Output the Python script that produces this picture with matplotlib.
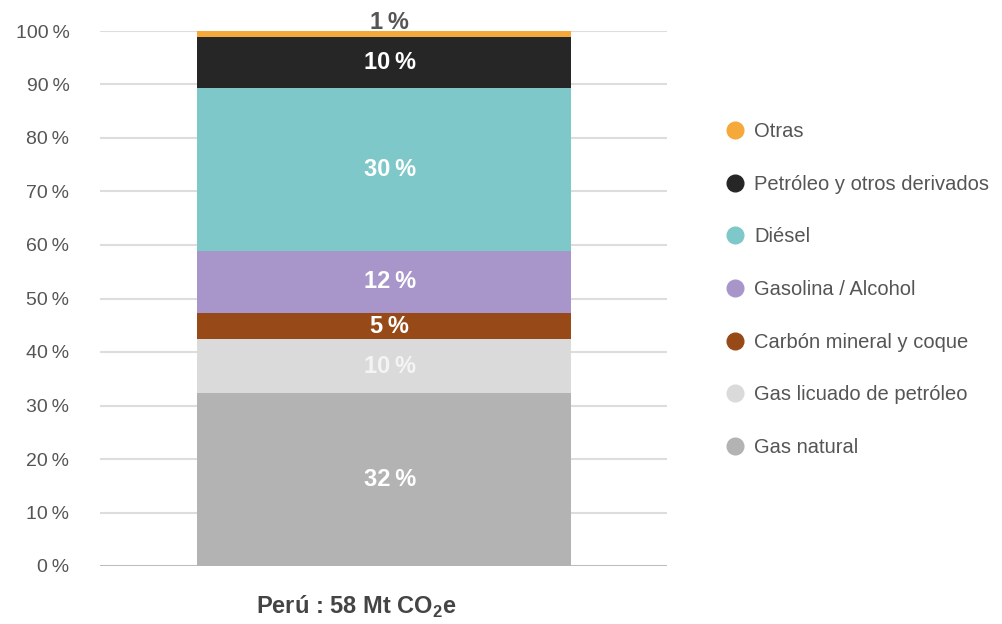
import matplotlib
matplotlib.use("Agg")
import matplotlib.pyplot as plt
from matplotlib.lines import Line2D

plt.rcParams['font.family'] = ['Liberation Sans', 'DejaVu Sans']

# data (bottom to top)
categories = ["Gas natural", "Gas licuado de petróleo", "Carbón mineral y coque",
              "Gasolina / Alcohol", "Diésel", "Petróleo y otros derivados", "Otras"]
values = [32.3, 10.1, 4.9, 11.6, 30.4, 9.6, 1.1]
labels = ["32\u2009%", "10\u2009%", "5\u2009%", "12\u2009%", "30\u2009%", "10\u2009%", "1\u2009%"]
colors = ["#b3b3b3", "#dadada", "#974a17", "#a896ca", "#7ec8c9", "#262626", "#f5a93b"]
label_colors = ["white", "#f4f4f4", "white", "white", "white", "white", "#555555"]
bar_name = "Perú : 58 Mt CO$_\\mathregular{2}$e"

fig = plt.figure(figsize=(10.02, 6.24), dpi=100)
ax = fig.add_axes([100/1002, 1-566/624, 567/1002, 535/624])

bottom = 0
for i, (v, lab, c, lc) in enumerate(zip(values, labels, colors, label_colors)):
    ax.bar(0, v, bottom=bottom, width=0.66, color=c, zorder=3)
    if i == len(values) - 1:
        # smallest slice: label sits above the bar
        ax.text(0.01, bottom + v - 0.6, lab, ha='center', va='bottom',
                color=lc, fontsize=17, fontweight='bold', zorder=4)
    else:
        ax.text(0.01, bottom + v/2, lab, ha='center', va='center',
                color=lc, fontsize=17, fontweight='bold', zorder=4)
    bottom += v

ax.set_xlim(-0.501, 0.499)
ax.set_ylim(0, 100)
ax.set_yticks(range(0, 101, 10))
ax.set_yticklabels([f"{t}\u2009%" for t in range(0, 101, 10)])
ax.tick_params(axis='y', length=0, labelsize=14, labelcolor="#555555", pad=22)
ax.set_xticks([])
for s in ax.spines.values():
    s.set_visible(False)
ax.grid(axis='y', color="#dddddd", linewidth=1.5, zorder=0)
ax.axhline(0, color="#b8b8b8", linewidth=2, zorder=2)

ax.set_xlabel(bar_name, fontsize=17, fontweight='bold', color="#444444")
ax.xaxis.set_label_coords(0.452, -0.052)

handles = [Line2D([0], [0], marker='o', linestyle='', markersize=12,
                  markerfacecolor=c, markeredgecolor=c) for c in colors[::-1]]
fig.legend(handles, categories[::-1], loc='upper left',
           bbox_to_anchor=(705/1002, 1-104/624), frameon=False,
           fontsize=14.5, labelcolor="#555555", labelspacing=1.67,
           handletextpad=0.35, handlelength=1.2)

fig.savefig("out.png", dpi=100)
